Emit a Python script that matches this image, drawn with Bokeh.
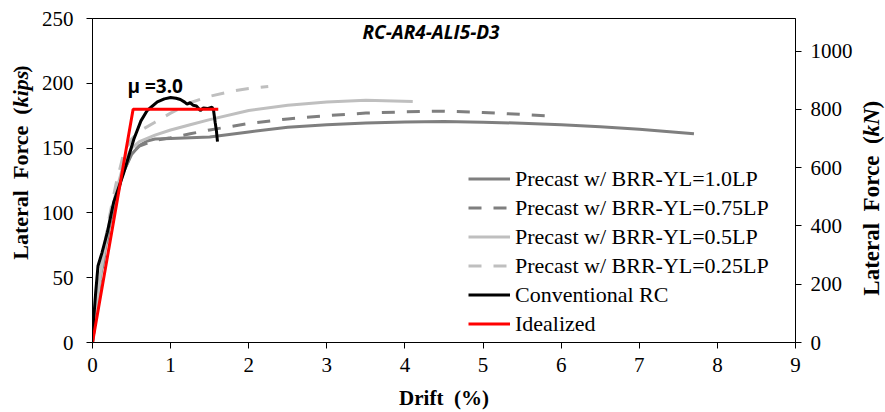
import math
from bokeh.plotting import figure
from bokeh.layouts import row
from bokeh.models import Range1d, LinearAxis, Label, Legend, LegendItem, FixedTicker
from bokeh.embed import file_html
from bokeh.resources import INLINE

# ---------------- data ----------------
drift_10 = [0, 0.1, 0.2, 0.3, 0.4, 0.5, 0.6, 0.7, 0.8, 1.0, 1.5, 2.0, 2.5, 3.0, 3.5, 4.0, 4.5, 5.0, 5.5, 6.0, 6.5, 7.0, 7.7]
force_10 = [0, 50, 85, 112, 132, 145, 152, 155.5, 157, 157.5, 158.5, 162.5, 166, 168, 169.3, 170.2, 170.5, 170, 169.2, 168, 166.5, 164.5, 161]

drift_075 = [0, 0.1, 0.2, 0.3, 0.4, 0.5, 0.6, 0.8, 1.0, 1.25, 1.5, 2.0, 2.5, 3.0, 3.5, 4.0, 4.5, 5.0, 5.5, 5.8]
force_075 = [0, 48, 83, 110, 132, 146, 151.5, 156, 158, 161, 164, 169, 172.5, 175, 177, 178, 178.5, 177.5, 176, 175]

drift_05 = [0, 0.1, 0.2, 0.3, 0.4, 0.5, 0.6, 0.8, 1.0, 1.25, 1.5, 2.0, 2.5, 3.0, 3.5, 4.1]
force_05 = [0, 52, 88, 116, 138, 150, 155, 160, 164, 168, 172, 179, 183, 185.5, 187, 186]

drift_025 = [0, 0.1, 0.2, 0.3, 0.4, 0.5, 0.6, 0.8, 1.0, 1.25, 1.5, 1.8, 2.0, 2.25]
force_025 = [0, 55, 92, 122, 146, 157, 163, 170, 177, 185, 190, 194, 196, 197.5]

drift_rc = [0, 0.02, 0.04, 0.07, 0.12, 0.19, 0.27, 0.4, 0.53, 0.62, 0.7, 0.83, 0.92, 1.0, 1.07,
            1.125, 1.18, 1.21, 1.25, 1.29, 1.33, 1.38, 1.42, 1.47, 1.53, 1.55, 1.57, 1.585, 1.6]
force_rc = [0, 22, 38, 59, 69, 85, 108, 131, 157, 171, 179, 185.6, 188, 189, 188.5,
            187.5, 185.5, 184, 185, 183, 182.5, 179, 181, 180.5, 181.5, 179, 170, 164, 155]

drift_ideal = [0, 0.52, 1.61]
force_ideal = [0, 180, 180]

series_names = ["Precast w/ BRR-YL=1.0LP", "Precast w/ BRR-YL=0.75LP", "Precast w/ BRR-YL=0.5LP",
                "Precast w/ BRR-YL=0.25LP", "Conventional RC", "Idealized"]

x_ticks = [0, 1, 2, 3, 4, 5, 6, 7, 8, 9]
y_ticks = [0, 50, 100, 150, 200, 250]
kn_ticks = [0, 200, 400, 600, 800, 1000]
KN_PER_KIP = 4.448

NB = "\u00a0"
title_text = "RC-AR4-ALI5-D3"
mu_text = "\u03bc =3.0"
x_label = "Drift" + NB + " (%)"
y_label_pre = "Lateral" + NB + " Force" + NB + " ("
y_label_unit_left = "kips"
y_label_unit_right = "kN"
y_label_post = ")"

# ---------------- layout constants ----------------
W, H = 885, 412
LEFT_W = 36
RIGHT_W = 30
FRAME_L, FRAME_R, FRAME_T, FRAME_B = 92, 796, 18, 343
SERIF = "Liberation Serif"

p = figure(width=W - LEFT_W - RIGHT_W, height=H, output_backend="svg", toolbar_location=None,
           x_range=Range1d(0, 9), y_range=Range1d(0, 250),
           min_border_left=FRAME_L - LEFT_W, min_border_right=(W - RIGHT_W) - FRAME_R,
           min_border_top=FRAME_T, min_border_bottom=H - FRAME_B)
p.background_fill_color = "white"
p.border_fill_color = "white"
p.outline_line_color = "black"
p.outline_line_width = 1
p.xgrid.visible = False
p.ygrid.visible = False

p.extra_y_ranges = {"kN": Range1d(0, 250 * KN_PER_KIP)}
rax = LinearAxis(y_range_name="kN")
p.add_layout(rax, "right")

p.xaxis.ticker = FixedTicker(ticks=x_ticks)
p.yaxis[0].ticker = FixedTicker(ticks=y_ticks)
rax.ticker = FixedTicker(ticks=kn_ticks)

for ax in [p.xaxis[0], p.yaxis[0], rax]:
    ax.axis_line_color = "black"
    ax.major_tick_line_color = "black"
    ax.major_tick_out = 6
    ax.major_tick_in = 0
    ax.minor_tick_line_color = None
    ax.major_label_text_font = SERIF
    ax.major_label_text_font_size = "21px"
    ax.major_label_text_color = "black"
p.xaxis[0].major_label_standoff = 9
p.yaxis[0].major_label_standoff = 13
rax.major_label_standoff = 9

p.xaxis[0].axis_label = x_label
p.xaxis[0].axis_label_text_font = SERIF
p.xaxis[0].axis_label_text_font_size = "21px"
p.xaxis[0].axis_label_text_font_style = "bold"
p.xaxis[0].axis_label_text_color = "black"
p.xaxis[0].axis_label_standoff = 11

DARK = "#7f7f7f"
LIGHT = "#bfbfbf"
r1 = p.line(drift_10, force_10, line_color=DARK, line_width=3)
r2 = p.line(drift_075, force_075, line_color=DARK, line_width=3, line_dash="13 12")
r3 = p.line(drift_05, force_05, line_color=LIGHT, line_width=3)
r4 = p.line(drift_025, force_025, line_color=LIGHT, line_width=3, line_dash="13 12")
r5 = p.line(drift_rc, force_rc, line_color="black", line_width=3)
r6 = p.line(drift_ideal, force_ideal, line_color="#ff0000", line_width=3)

legend = Legend(items=[LegendItem(label=n, renderers=[r]) for n, r in zip(series_names, [r1, r2, r3, r4, r5, r6])],
                location=(376, 4), border_line_color=None, background_fill_alpha=0,
                padding=0, margin=0, spacing=0, glyph_width=42, glyph_height=29, label_height=29,
                label_standoff=5, label_text_font=SERIF, label_text_font_size="22px",
                label_text_color="black")
p.add_layout(legend)

px_per_x = (FRAME_R - FRAME_L) / 9.0
px_per_y = (FRAME_B - FRAME_T) / 250.0

def dx(px):
    return (px - FRAME_L) / px_per_x

def dy(py):
    return (FRAME_B - py) / px_per_y

p.add_layout(Label(x=dx(431), y=dy(32), text=title_text, text_font="Open Sans", text_font_size="19px",
                   text_font_style="bold italic", text_align="center", text_baseline="middle",
                   text_color="black"))
p.add_layout(Label(x=dx(127), y=dy(86), text=mu_text, text_font="Open Sans", text_font_size="19px",
                   text_font_style="bold", text_align="left", text_baseline="middle",
                   text_color="black"))

# ---------------- side panels for the vertical axis titles ----------------
def side_fig(width):
    f = figure(width=width, height=H, output_backend="svg", toolbar_location=None,
               x_range=Range1d(0, width), y_range=Range1d(0, H),
               x_axis_type=None, y_axis_type=None,
               min_border_left=0, min_border_right=0, min_border_top=0, min_border_bottom=0)
    f.outline_line_color = None
    f.xgrid.visible = False
    f.ygrid.visible = False
    f.background_fill_color = "white"
    f.border_fill_color = "white"
    return f

def vertical_label(f, xc, anchor_py, fs, unit, unit_em):
    common = dict(text_font=SERIF, text_font_size="%dpx" % fs, text_baseline="middle",
                  angle=math.pi / 2, text_color="black")
    f.add_layout(Label(x=xc, y=H - anchor_py, text=y_label_pre, text_font_style="bold",
                       text_align="right", **common))
    f.add_layout(Label(x=xc, y=H - anchor_py, text=unit, text_font_style="bold italic",
                       text_align="left", **common))
    f.add_layout(Label(x=xc, y=H - (anchor_py - unit_em * fs), text=y_label_post, text_font_style="bold",
                       text_align="left", **common))

left_f = side_fig(LEFT_W)
vertical_label(left_f, 20, 113, 22, y_label_unit_left, 2.0)

right_f = side_fig(RIGHT_W)
vertical_label(right_f, 871 - (W - RIGHT_W), 150, 23, y_label_unit_right, 1.55)

layout = row(left_f, p, right_f, spacing=0)
open("out.html", "w").write(file_html(layout, INLINE))
